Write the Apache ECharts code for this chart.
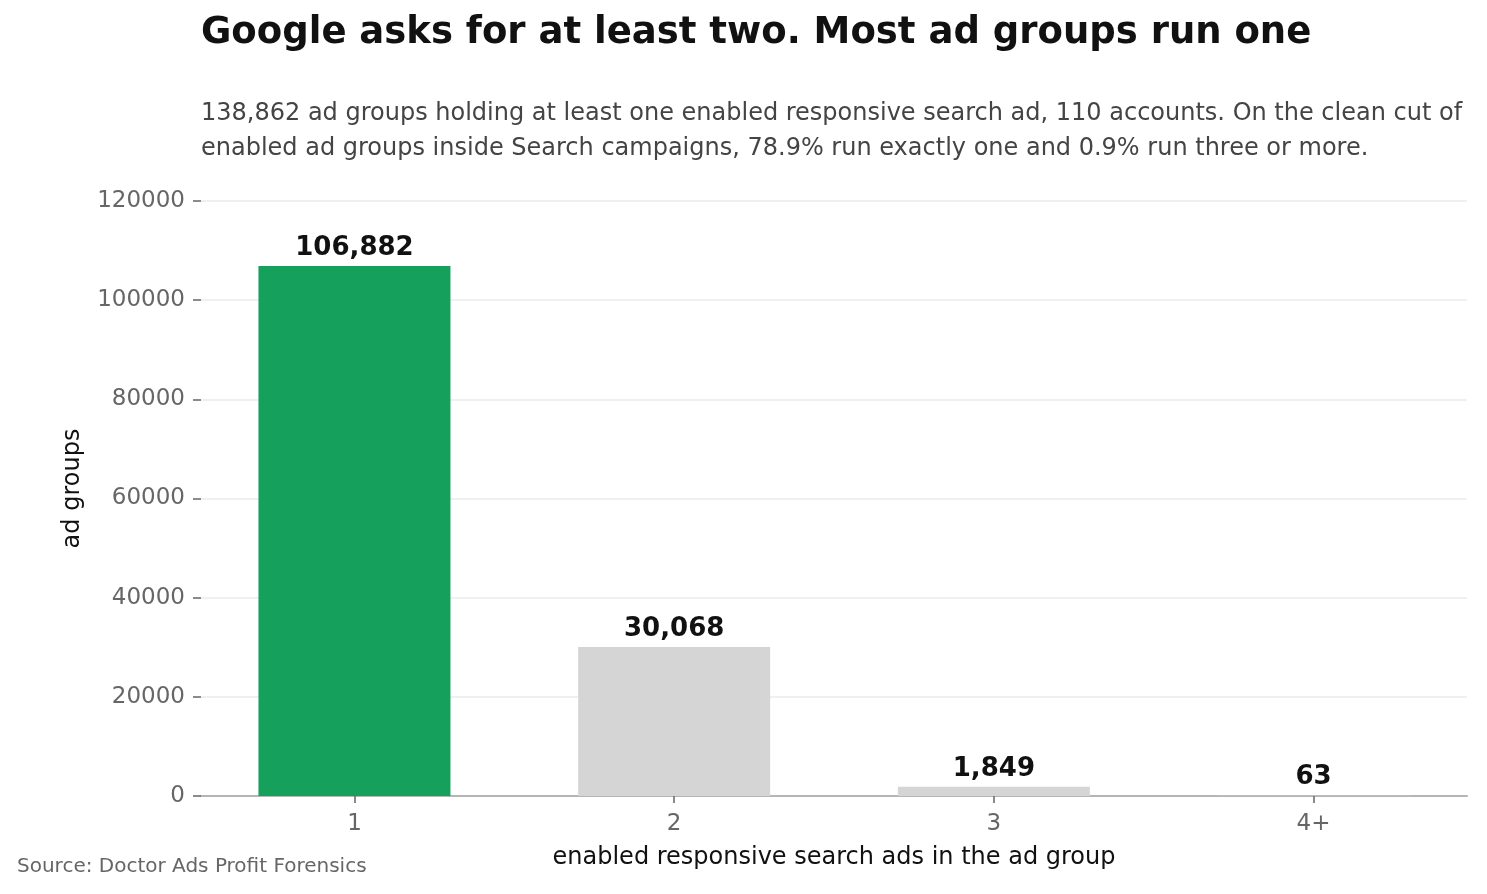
<!DOCTYPE html>
<html>
<head>
<meta charset="utf-8">
<script src="https://cdn.jsdelivr.net/npm/echarts@6/dist/echarts.min.js"></script>
<style>
  html, body { margin: 0; padding: 0; background: #fff; }
  #chart { width: 1487px; height: 894px; }
</style>
</head>
<body>
<div id="chart"></div>
<script>
// ads per ad group
var categories = ['1', '2', '3', '4+'];
var adGroups = [106882, 30068, 1849, 63];
var barColors = ['#15a05b', '#d5d5d5', '#d5d5d5', '#d5d5d5'];
var yTicks = [0, 20000, 40000, 60000, 80000, 100000, 120000];

var font = 'DejaVu Sans';
var chart = echarts.init(document.getElementById('chart'));

// categories placed on a numeric axis so the outer margin matches the original
var xPos = categories.map(function (c, i) { return i; });
var pad = 0.48;

chart.setOption({
  backgroundColor: '#fff',
  animation: false,
  textStyle: { fontFamily: font },
  title: [{
    text: 'Google asks for at least two. Most ad groups run one',
    left: 201, top: 15, padding: 0,
    textStyle: { fontFamily: font, fontSize: 37, fontWeight: 'bold', color: '#111' }
  }, {
    text: '138,862 ad groups holding at least one enabled responsive search ad, 110 accounts. On the clean cut of\nenabled ad groups inside Search campaigns, 78.9% run exactly one and 0.9% run three or more.',
    left: 201, top: 96, padding: 0,
    textStyle: { fontFamily: font, fontSize: 24, fontWeight: 'normal', color: '#444', lineHeight: 35 }
  }, {
    text: 'Source: Doctor Ads Profit Forensics',
    left: 17, top: 857, padding: 0,
    textStyle: { fontFamily: font, fontSize: 20, fontWeight: 'normal', color: '#666' }
  }],
  grid: { left: 201, right: 20, top: 201, bottom: 98 },
  xAxis: {
    type: 'value',
    min: -pad,
    max: categories.length - 1 + pad,
    name: 'enabled responsive search ads in the ad group',
    nameLocation: 'middle',
    nameGap: 50,
    nameTextStyle: { fontFamily: font, fontSize: 24, color: '#111' },
    splitLine: { show: false },
    axisLine: { show: true, onZero: false, lineStyle: { color: '#b5b5b5', width: 2 } },
    axisTick: { show: true, customValues: xPos, length: 7, lineStyle: { color: '#666', width: 1.5 } },
    axisLabel: {
      customValues: xPos,
      fontFamily: font, fontSize: 23, color: '#666', margin: 17,
      formatter: function (v) { return categories[Math.round(v)]; }
    }
  },
  yAxis: {
    type: 'value',
    min: yTicks[0],
    max: yTicks[yTicks.length - 1],
    interval: yTicks[1] - yTicks[0],
    name: 'ad groups',
    nameLocation: 'middle',
    nameGap: 116,
    nameTextStyle: { fontFamily: font, fontSize: 24, color: '#111', padding: [0, 0, 0, 20] },
    axisLine: { show: false, onZero: false },
    axisTick: { show: true, length: 8, lineStyle: { color: '#666', width: 1.5 } },
    axisLabel: {
      fontFamily: font, fontSize: 23, color: '#666', margin: 16,
      formatter: function (v) { return String(v); }
    },
    splitLine: { lineStyle: { color: '#ebebeb', width: 1.5 } }
  },
  series: [{
    type: 'bar',
    data: adGroups.map(function (v, i) {
      return { value: [xPos[i], v], itemStyle: { color: barColors[i] } };
    }),
    barWidth: 192,
    label: {
      show: true,
      position: 'top',
      distance: 5,
      fontFamily: font,
      fontSize: 26,
      fontWeight: 'bold',
      color: '#111',
      formatter: function (p) { return p.value[1].toLocaleString('en-US'); }
    }
  }]
});
</script>
</body>
</html>
